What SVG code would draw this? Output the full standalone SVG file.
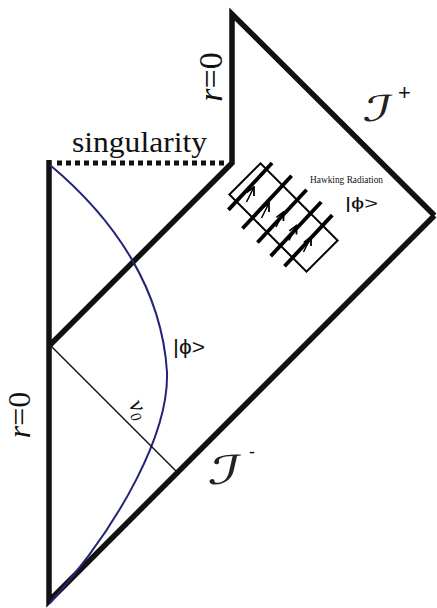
<svg xmlns="http://www.w3.org/2000/svg" width="437" height="608" viewBox="0 0 437 608">
<style>
.thick{fill:none;stroke:#111;stroke-width:5.5;stroke-linejoin:miter}
.serif{font-family:"Liberation Serif","Times New Roman",serif;fill:#111}
.sans{font-family:"Liberation Sans","DejaVu Sans",sans-serif;fill:#111}
.script{font-family:"DejaVu Serif","DejaVu Sans",serif;fill:#222}
.hl{stroke:#000;stroke-width:3.8;fill:none}
.arr{stroke:#000;stroke-width:1.5;fill:none;marker-end:url(#ah)}
</style>
<defs>
<marker id="ah" viewBox="0 0 10 10" refX="9" refY="5" markerWidth="10" markerHeight="10" markerUnits="userSpaceOnUse" orient="auto">
<path d="M1,1 L9,5 L1,9" fill="none" stroke="#000" stroke-width="1.8"/>
</marker>
</defs>
<rect width="437" height="608" fill="#fff"/>
<g id="spacetime">
<path class="thick" d="M49,160 L49,601 L434.5,215.5"/>
<path class="thick" d="M434.5,215.5 L232,14 L232,163 L49,346"/>
</g>
<g id="singularity">
<line x1="57" y1="163" x2="225" y2="163" stroke="#111" stroke-width="5" stroke-dasharray="5 4"/>
<text class="serif" x="72" y="152" font-size="30" textLength="135" lengthAdjust="spacingAndGlyphs">singularity</text>
</g>
<g id="connectors">
<path d="M50,165 C118,222 162,292 167,372 C169,432 122,522 50,603" fill="none" stroke="#23237a" stroke-width="2"/>
<line x1="50" y1="345" x2="177" y2="472" stroke="#111" stroke-width="1.5"/>
</g>
<g id="hawking-radiation">
<g transform="translate(283.5,217.5) rotate(45)">
<rect x="-54.5" y="-22" width="109" height="44" fill="none" stroke="#000" stroke-width="2"/>
<g transform="rotate(-2)">
<line class="hl" x1="-45.5" y1="-32" x2="-45.5" y2="32"/>
<line class="hl" x1="-22.5" y1="-36" x2="-22.5" y2="36"/>
<line class="hl" x1="-2" y1="-36" x2="-2" y2="36"/>
<line class="hl" x1="17" y1="-37" x2="17" y2="37"/>
<line class="hl" x1="34" y1="-35" x2="34" y2="35"/>
</g>
</g>
<line class="arr" x1="246.5" y1="202" x2="254" y2="187"/>
<line class="arr" x1="261.5" y1="218" x2="269" y2="203"/>
<line class="arr" x1="276" y1="227" x2="283.5" y2="212"/>
<line class="arr" x1="289" y1="240.5" x2="296.5" y2="225.5"/>
<line class="arr" x1="303.5" y1="252" x2="311" y2="237"/>
<text class="serif" x="310" y="183" font-size="9.5" textLength="73" lengthAdjust="spacingAndGlyphs" fill="#222">Hawking Radiation</text>
<text class="sans" x="345" y="209" font-size="16" textLength="33" lengthAdjust="spacingAndGlyphs">|ϕ&gt;</text>
</g>
<g id="label-phi-in">
<text class="sans" x="173" y="354" font-size="21" textLength="32" lengthAdjust="spacingAndGlyphs">|ϕ&gt;</text>
</g>
<g id="label-v0">
<text class="serif" font-style="italic" font-size="24" transform="translate(137,410) rotate(62)" x="-9" y="5">ν<tspan font-size="15" dy="4">0</tspan></text>
</g>
<g id="label-r0-left">
<text class="serif" font-size="32" text-anchor="middle" transform="translate(30,415) rotate(-90)"><tspan font-style="italic">r</tspan>=0</text>
</g>
<g id="label-r0-top">
<text class="serif" font-size="34" text-anchor="middle" transform="translate(222,77) rotate(-90)"><tspan font-style="italic">r</tspan>=0</text>
</g>
<g id="label-scri-plus">
<text class="script" font-size="34" font-style="italic" transform="translate(362,121) scale(1.7,1.05) skewX(-8)">ℐ</text>
<text class="sans" x="398" y="100" font-size="22" fill="#333">+</text>
</g>
<g id="label-scri-minus">
<text class="script" font-size="38" font-style="italic" transform="translate(207,484) scale(1.7,1.05) skewX(-8)">ℐ</text>
<text class="sans" x="249" y="458" font-size="18">-</text>
</g>
</svg>
